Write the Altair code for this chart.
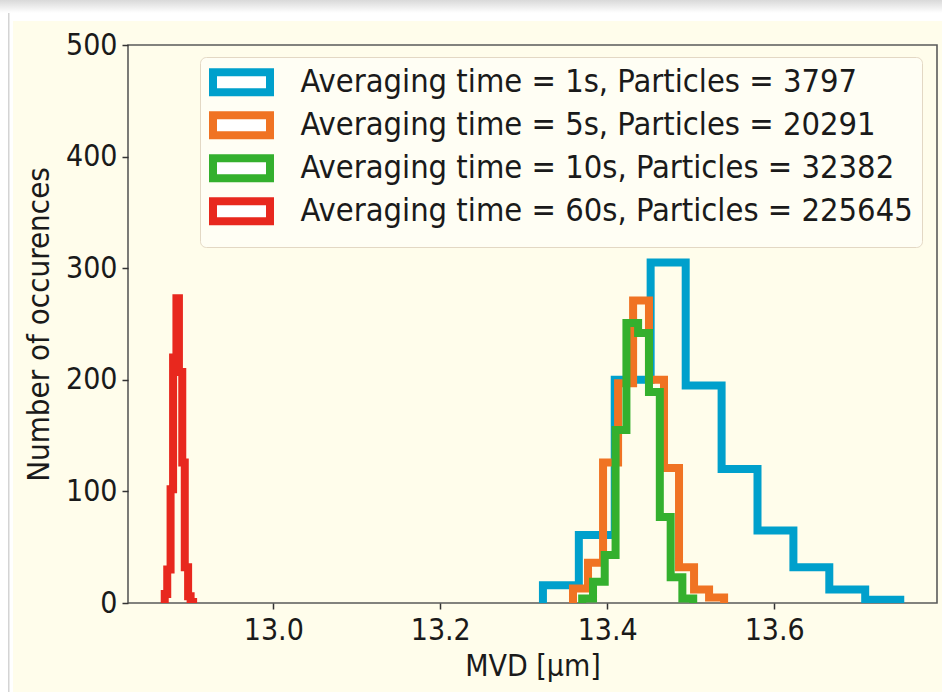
import altair as alt
import pandas as pd

# ---- data ----
labels = [
    "Averaging time = 1s, Particles = 3797",
    "Averaging time = 5s, Particles = 20291",
    "Averaging time = 10s, Particles = 32382",
    "Averaging time = 60s, Particles = 225645",
]
colors = ["#00a0cc", "#f07323", "#34b02e", "#e8281e"]

blue_edges = [13.323, 13.366, 13.409, 13.452, 13.494, 13.537, 13.580, 13.623, 13.666, 13.709, 13.751]
blue_counts = [16, 61, 200, 305, 195, 120, 65, 32, 12, 3]

orange_edges = [13.359, 13.377, 13.395, 13.413, 13.431, 13.450, 13.468, 13.486, 13.504, 13.522, 13.540]
orange_counts = [13, 36, 126, 197, 271, 200, 121, 32, 12, 5]

green_edges = [13.370, 13.383, 13.397, 13.410, 13.423, 13.437, 13.450, 13.463, 13.476, 13.490, 13.503]
green_counts = [4, 19, 43, 155, 251, 242, 189, 77, 23, 4]

red_edges = [12.870, 12.873, 12.877, 12.880, 12.884, 12.887, 12.891, 12.894, 12.898, 12.901, 12.904]
red_counts = [8, 30, 102, 220, 273, 207, 126, 32, 6, 1]

x_ticks = [13.0, 13.2, 13.4, 13.6]
y_ticks = [0, 100, 200, 300, 400, 500]

FONT = "DejaVu Sans Condensed"
CREAM = "#fffdeb"


def outline(label, edges, counts):
    pts = [(edges[0], 0)]
    for i, c in enumerate(counts):
        pts.append((edges[i], c))
        pts.append((edges[i + 1], c))
    pts.append((edges[-1], 0))
    return [{"series": label, "k": k, "mvd": x, "count": y} for k, (x, y) in enumerate(pts)]


rows = []
for lab, e, c in zip(labels,
                     [blue_edges, orange_edges, green_edges, red_edges],
                     [blue_counts, orange_counts, green_counts, red_counts]):
    rows += outline(lab, e, c)
df = pd.DataFrame(rows)

W, H = 809, 558
PL, PT = 128, 45

color = alt.Color(
    "series:N",
    scale=alt.Scale(domain=labels, range=colors),
    sort=labels,
    legend=alt.Legend(
        title=None,
        orient="none",
        legendX=72,
        legendY=12,
        padding=9,
        rowPadding=-10.4,
        labelFont=FONT,
        labelFontSize=32.4,
        labelColor="#1a1a1a",
        labelLimit=800,
        labelOffset=42.8,
        symbolType="M-2.85,-1L2.85,-1L2.85,1L-2.85,1Z",
        symbolSize=400,
        symbolOffset=16.3,
        symbolStrokeWidth=8,
        symbolFillColor="white",
        strokeColor="#e3d8c4",
        fillColor="#fffef4",
        cornerRadius=6,
    ),
)

xenc = alt.X(
    "mvd:Q",
    scale=alt.Scale(domain=[12.826, 13.795], zero=False, nice=False),
    axis=alt.Axis(
        title="MVD [µm]", values=x_ticks, format=".1f", grid=False, domain=False,
        tickSize=6, tickWidth=1.5, tickColor="#333333",
        labelFont=FONT, labelFontSize=30, labelColor="#1a1a1a", labelPadding=6,
        titleFont=FONT, titleFontSize=30, titleFontWeight="normal", titleColor="#1a1a1a",
        titlePadding=6,
    ),
)
yenc = alt.Y(
    "count:Q",
    scale=alt.Scale(domain=[0, 500], nice=False),
    axis=alt.Axis(
        title="Number of occurences", values=y_ticks, grid=False, domain=False,
        tickSize=6, tickWidth=1.5, tickColor="#333333",
        labelFont=FONT, labelFontSize=30, labelColor="#1a1a1a", labelPadding=5,
        titleFont=FONT, titleFontSize=31, titleFontWeight="normal", titleColor="#1a1a1a",
        titlePadding=10,
    ),
)

base = alt.Chart(df)
hist_layers = [
    base.transform_filter(alt.datum.series == lab)
    .mark_line(strokeWidth=8, clip=True, strokeJoin="miter", strokeCap="butt")
    .encode(x=xenc, y=yenc, order="k:Q", color=color)
    for lab in labels
]

# ---- page decoration (white card edge with shadow) ----
dummy = alt.Chart(pd.DataFrame({"d": [0]}))
top_strip = dummy.mark_rect(
    fill=alt.Gradient(
        gradient="linear",
        stops=[
            alt.GradientStop(color="#d9d9d9", offset=0),
            alt.GradientStop(color="#fbfbfb", offset=0.55),
            alt.GradientStop(color="#ffffff", offset=0.62),
            alt.GradientStop(color="#ffffff", offset=1),
        ],
        x1=0, x2=0, y1=0, y2=1,
    )
).encode(x=alt.value(-PL), x2=alt.value(942 - PL), y=alt.value(-PT), y2=alt.value(21 - PT))
left_strip = dummy.mark_rect(fill="white").encode(
    x=alt.value(-PL), x2=alt.value(13 - PL), y=alt.value(13 - PT), y2=alt.value(696 - PT)
)
left_line = dummy.mark_rect(fill="#d4d4d4").encode(
    x=alt.value(8 - PL), x2=alt.value(9.5 - PL), y=alt.value(13 - PT), y2=alt.value(696 - PT)
)
bottom_strip = dummy.mark_rect(fill="white").encode(
    x=alt.value(-PL), x2=alt.value(942 - PL), y=alt.value(692 - PT), y2=alt.value(696 - PT)
)

chart = (
    alt.layer(top_strip, left_strip, left_line, bottom_strip, *hist_layers)
    .properties(
        width=W,
        height=H,
        padding={"left": PL, "top": PT, "right": 942 - PL - W, "bottom": 696 - PT - H},
        autosize=alt.AutoSizeParams(type="none"),
        background=CREAM,
    )
    .configure_view(stroke="#5a5a5a", strokeWidth=1.6, fill=CREAM)
)

chart.save("out.html", embed_options={"renderer": "svg", "actions": False})
